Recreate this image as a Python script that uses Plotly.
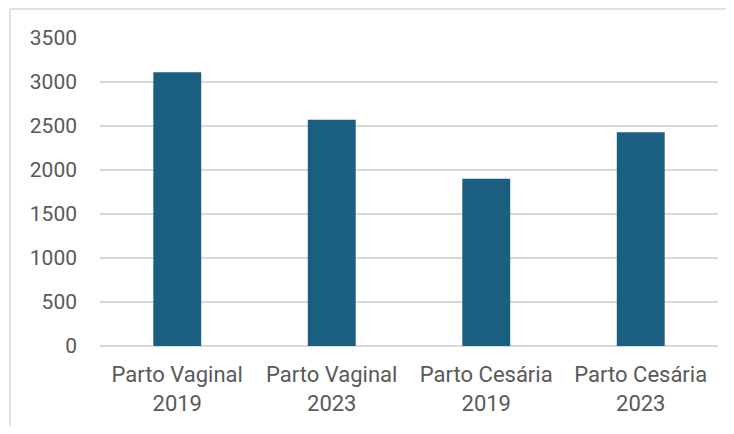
import plotly.graph_objects as go

categories = ["Parto Vaginal<br>2019", "Parto Vaginal<br>2023", "Parto Cesária<br>2019", "Parto Cesária<br>2023"]
values = [3110, 2570, 1900, 2430]
y_ticks = [0, 500, 1000, 1500, 2000, 2500, 3000, 3500]

# page has an 8px body margin; figure coordinates are page - 8
W, H = 718, 418
L, R, T, B = 92, 8, 30, 80
pw, ph = W - L - R, H - T - B


def px(x):
    return (x - L) / pw


def py(y):
    return (H - B - y) / ph


border = dict(color="#d9d9d9", width=1.5)

fig = go.Figure()
fig.add_trace(go.Bar(x=categories, y=values, marker=dict(color="#1a5e80", line=dict(width=0)), width=0.31))

fig.update_layout(
    width=W, height=H,
    margin=dict(l=L, r=R, t=T, b=B),
    paper_bgcolor="white", plot_bgcolor="white",
    showlegend=False,
    font=dict(family="Roboto, Arial, sans-serif", size=21, color="#595959"),
    xaxis=dict(showgrid=False, showline=False, ticks="", tickfont=dict(size=22, color="#595959"),
               ticklabelstandoff=13),
    yaxis=dict(range=[0, 3500], tickvals=y_ticks, showgrid=True, gridcolor="#d9d9d9", gridwidth=1.5,
               zeroline=True, zerolinecolor="#d9d9d9", zerolinewidth=1.5, showline=False, ticks="",
               tickfont=dict(size=21, color="#595959"), ticklabelstandoff=22),
    shapes=[
        dict(type="line", xref="paper", yref="paper", x0=px(2), x1=px(W + 20), y0=py(1), y1=py(1), line=border),
        dict(type="line", xref="paper", yref="paper", x0=px(2), x1=px(2), y0=py(1), y1=py(H + 10), line=border),
    ],
)

fig.write_html("out.html")
